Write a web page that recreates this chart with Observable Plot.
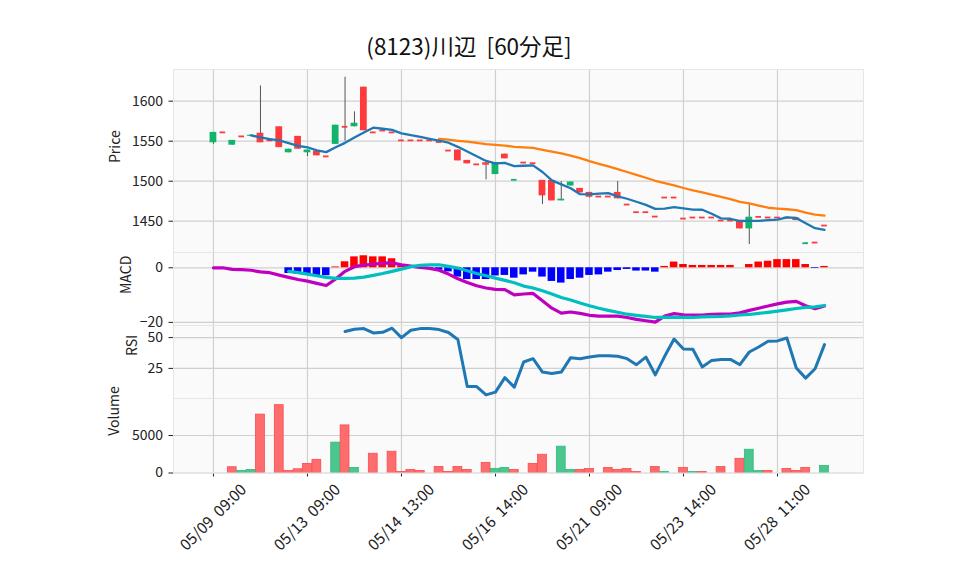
<!DOCTYPE html>
<html><head><meta charset="utf-8">
<script src="https://cdn.jsdelivr.net/npm/d3@7"></script>
<script src="https://cdn.jsdelivr.net/npm/@observablehq/plot@0.6"></script>
<style>
body{margin:0;background:#fff;}
#wrap{position:relative;width:958px;height:575px;overflow:hidden;font-family:"Noto Sans CJK JP","Noto Sans",sans-serif;}
#title{position:absolute;top:31px;left:0;width:938px;text-align:center;font-size:22.5px;line-height:28px;color:#111;white-space:pre;}
svg text{white-space:pre;}
</style></head>
<body><div id="wrap"><div id="title">(8123)川辺  [60分足]</div></div>
<script>
// ---- data, one entry per 60-minute bar ----
const opens  = [1548,1561,1545,1556,1556,1560,1551,1568,1535.5,1556,
  1535.5,1537.5,1531,1546,1568,1568,1617.5,1561,1563.3,1561,
  1551,1551,1551,1551,1549,1538.3,1539,1526,1521,1523,
  1508.3,1533.8,1501.5,1523.3,1522.5,1501,1501,1475.4,1494,1491,
  1486,1480.8,1480.8,1486,1470.8,1461.3,1461.3,1455.8,1479.6,1479.6,
  1453.3,1454.6,1454.6,1454.6,1450.8,1450.8,1451,1440.4,1455.4,1454.6,
  1454.6,1454.6,1454,1422,1423.3,1444.6];
const highs  = [1561,1561,1551,1556,1557.5,1619,1551,1568,1540,1556,
  1539,1537.5,1531,1570,1630,1586.7,1617.5,1561,1563.3,1561,
  1551,1551,1551,1551,1549,1538.3,1539,1526,1521,1523,
  1523.3,1533.8,1502,1523.3,1522.5,1501,1501,1499.6,1499,1491,
  1486,1480.8,1480.8,1499.6,1470.8,1461.3,1461.3,1455.8,1479.6,1479.6,
  1453.3,1454.6,1454.6,1454.6,1450.8,1450.8,1451,1470.8,1455.4,1454.6,
  1454.6,1454.6,1454,1423,1423.3,1444.6];
const lows   = [1546,1561,1545,1556,1556,1548,1551,1542,1535.5,1540,
  1530.8,1531.7,1531,1546,1550,1568,1563,1561,1563.3,1561,
  1551,1551,1551,1551,1549,1538.3,1525.4,1521.7,1521,1501.7,
  1508.3,1528,1501.5,1523.3,1522.5,1470.8,1475.4,1475.4,1494,1485.4,
  1479,1480.8,1480.8,1478,1470.8,1461.3,1461.3,1455.8,1479.6,1479.6,
  1453.3,1454.6,1454.6,1454.6,1450.8,1450.8,1440.4,1420.8,1455.4,1454.6,
  1454.6,1454.6,1450.8,1422,1423.3,1444.6];
const closes = [1561,1561,1551,1556,1557.5,1548,1551,1542,1540,1540,
  1539,1531.7,1531,1570,1568,1572.5,1563,1561,1563.3,1561,
  1551,1551,1551,1551,1549,1538.3,1525.4,1521.7,1521,1520,
  1523.3,1528,1502,1523.3,1522.5,1481.7,1475.4,1477.5,1499,1485.4,
  1480,1480.8,1480.8,1478,1470.8,1461.3,1461.3,1455.8,1479.6,1479.6,
  1453.3,1454.6,1454.6,1454.6,1450.8,1450.8,1440.4,1455,1455.4,1454.6,
  1454.6,1454.6,1450.8,1423,1423.3,1444.6];
const volumes = [0,0,765,270,405,7785,0,9045,270,495,
  1215,1755,0,4050,6345,675,0,2565,0,2835,
  135,405,270,0,810,135,810,405,0,1350,
  540,675,405,0,1215,2430,0,3510,405,405,
  540,0,675,405,540,135,0,810,135,0,
  675,135,135,0,810,0,1890,3105,270,270,
  0,540,270,675,0,945];
const macdLine = [0,0,-0.6,-0.7,-0.9,-1.5,-1.8,-2.7,-3.5,-4.3,
  -4.9,-5.7,-6.5,-4.1,-1.3,0.4,1.0,1.3,1.7,1.8,
  1.1,0.6,0.1,-0.2,-0.9,-2.3,-4.0,-5.4,-6.6,-7.4,
  -7.9,-8.0,-9.9,-9.6,-9.4,-12.1,-14.8,-16.6,-16.2,-16.7,
  -17.4,-17.7,-17.7,-17.7,-18.2,-18.9,-19.4,-19.9,-17.7,-16.8,
  -17.2,-17.3,-17.3,-17.1,-17.0,-17.0,-16.5,-15.6,-14.8,-14.0,
  -13.2,-12.6,-12.3,-13.9,-15.0,-14.0];
const signalLine = [null,null,null,null,null,null,null,null,-1.3,-1.8,
  -2.3,-2.9,-3.5,-3.9,-3.9,-3.8,-3.4,-2.8,-2.1,-1.3,
  -0.5,0.4,0.9,1.1,1.1,0.5,-0.1,-1.1,-2.1,-2.9,
  -3.8,-4.6,-5.5,-6.7,-7.4,-8.4,-9.6,-10.9,-11.8,-12.9,
  -13.9,-14.8,-15.6,-16.3,-17.0,-17.4,-17.8,-18.2,-18.2,-18.2,
  -18.2,-18.2,-18.0,-17.9,-17.8,-17.6,-17.3,-17.1,-16.7,-16.3,
  -15.9,-15.4,-14.9,-14.5,-14.3,-13.8];
const macdHist = [null,null,null,null,null,null,null,null,-2.1,-2.4,
  -2.6,-2.8,-2.9,0.3,2.2,4.0,4.4,4.0,4.0,3.3,
  0.8,0.2,-0.3,-0.6,-0.9,-1.5,-3.4,-4.3,-4.3,-4.3,
  -3.0,-2.8,-3.8,-2.6,-1.6,-3.4,-5.0,-5.6,-4.3,-3.8,
  -2.8,-2.6,-1.6,-1.0,-0.6,-1.2,-1.2,-1.6,0.5,2.1,
  1.2,0.85,0.85,0.85,0.85,0.85,0,1.2,2.1,2.4,
  3.0,3.0,3.0,1.2,-0.25,0.5];
const rsiValues = [null,null,null,null,null,null,null,null,null,null,
  null,null,null,null,54.9,56.8,57.3,53.8,54.3,57.6,
  50,56,57.3,57.3,56.5,54.1,48.4,10.3,10.3,3.5,
  5.7,17.5,9.8,30.2,32.9,22,20.9,22,33.7,32.9,
  34.2,35.3,35.3,34.8,32.9,28,34.2,19.8,34.8,48.9,
  40.8,40.5,26.1,31.5,32.3,32.3,28,38.3,42.4,47,
  47.3,49.7,25.3,17.1,24.7,44.3];
const tickIndex  = [0,10,20,30,40,50,60];
const tickLabels = ["05/09\u00a0\u00a009:00","05/13\u00a0\u00a009:00","05/14\u00a0\u00a013:00","05/16\u00a0\u00a014:00","05/21\u00a0\u00a009:00","05/23\u00a0\u00a014:00","05/28\u00a0\u00a011:00"];
const priceTicks = [1450,1500,1550,1600];
const macdTicks = [-20,0];
const rsiTicks = [25,50];
const volTicks = [0,5000];

// ---- tables built from the arrays ----
const bars = closes.map((c,i) => ({i, o: opens[i], h: highs[i], l: lows[i], c,
  v: volumes[i], up: c > opens[i], vup: i > 0 && c > closes[i-1],
  macd: macdLine[i], sig: signalLine[i], hist: macdHist[i], rsi: rsiValues[i]}));
const bodies = bars.filter(d => Math.abs(d.o - d.c) > 1.1);
const dashes = bars.filter(d => Math.abs(d.o - d.c) <= 1.1);
const volBars = bars.filter(d => d.v > 0);
const histBars = bars.filter(d => d.hist != null);

const xDomain = [-4.25, 69.15];
const GRID = "#d0d0d0";
const UP = "#12b46b", DOWN = "#fe3a3c";
const wrap = document.getElementById("wrap");

function panel({top, height, yDomain, yTicks, marks, label, labelDx, labelDy = 0, bottom = 0}) {
  const svg = Plot.plot({
    width: 958, height: height + bottom,
    marginLeft: 173, marginRight: 95, marginTop: 0, marginBottom: bottom,
    x: bottom ? {type: "linear", domain: xDomain, ticks: tickIndex, tickSize: 4, tickFormat: () => "", label: null}
              : {type: "linear", domain: xDomain, axis: null},
    y: {domain: yDomain, ticks: yTicks, tickSize: 4.5, tickPadding: 6, tickFormat: "d", label: null},
    style: {background: "transparent", overflow: "visible", fontFamily: '"Noto Sans CJK JP","Noto Sans",sans-serif', fontSize: "14px", color: "#222"},
    marks: [
      Plot.frame({fill: "#fafafa"}),
      Plot.ruleX(tickIndex, {stroke: GRID, strokeWidth: 1.2}),
      Plot.ruleY(yTicks, {stroke: GRID, strokeWidth: 1.2}),
      ...marks,
      Plot.frame({stroke: "#e6e6e6"}),
      Plot.text([label], {frameAnchor: "left", dx: labelDx, dy: labelDy, rotate: -90, text: d => d, fontSize: 14, fill: "#222", lineAnchor: "middle"})
    ]
  });
  svg.style.position = "absolute";
  svg.style.left = "0px";
  svg.style.top = top + "px";
  wrap.appendChild(svg);
}

// Price panel
panel({top: 69, height: 183, yDomain: [1410.9, 1639.6], yTicks: priceTicks, label: "Price", labelDx: -58, labelDy: 2,
  marks: [
    Plot.ruleX(bars, {x: "i", y1: "l", y2: "h", stroke: "#555", strokeWidth: 1}),
    Plot.rect(bodies, {x1: d => d.i - 0.36, x2: d => d.i + 0.36, y1: "o", y2: "c", fill: d => d.up ? UP : DOWN}),
    Plot.ruleY(dashes, {y: d => (d.o + d.c) / 2, x1: d => d.i - 0.3, x2: d => d.i + 0.3, stroke: d => d.up ? UP : DOWN, strokeWidth: 1.8}),
    Plot.lineY(bars, Plot.windowY({k: 25, anchor: "end", strict: true}, {x: "i", y: "c", stroke: "#ff7f0e", strokeWidth: 2.3})),
    Plot.lineY(bars, Plot.windowY({k: 5, anchor: "end", strict: true}, {x: "i", y: "c", stroke: "#1f77b4", strokeWidth: 2.3}))
  ]});

// MACD panel
panel({top: 252, height: 73, yDomain: [-21.14, 5.6], yTicks: macdTicks, label: "MACD", labelDx: -47, labelDy: 5,
  marks: [
    Plot.rectY(histBars, {x1: d => d.i - 0.4, x2: d => d.i + 0.4, y: "hist", fill: d => d.hist >= 0 ? "#ff0000" : "#0000ff"}),
    Plot.line(bars, {x: "i", y: "macd", stroke: "#bf00bf", strokeWidth: 3.2}),
    Plot.line(bars, {x: "i", y: "sig", stroke: "#00bfbf", strokeWidth: 3.2})
  ]});

// RSI panel
panel({top: 325, height: 73, yDomain: [0.57, 59.82], yTicks: rsiTicks, label: "RSI", labelDx: -41, labelDy: -6,
  marks: [
    Plot.line(bars, {x: "i", y: "rsi", stroke: "#1f77b4", strokeWidth: 3})
  ]});

// Volume panel with x axis
panel({top: 398, height: 74.5, yDomain: [0, 9933], yTicks: volTicks, label: "Volume", labelDx: -59, bottom: 102.5,
  marks: [
    Plot.rectY(volBars, {x1: d => d.i - 0.47, x2: d => d.i + 0.47, y: "v",
      fill: d => d.vup ? "#4bc68e" : "#fe6d6e", stroke: d => d.vup ? "#2fbb7b" : "#fe4a4d", strokeWidth: 0.8}),
    Plot.text(tickIndex, {x: d => d, frameAnchor: "bottom", dy: 44.5, rotate: -45,
      text: (d, k) => tickLabels[k], textAnchor: "middle", lineAnchor: "middle", fontSize: 15.5, fill: "#222"})
  ]});
</script>
</body></html>
